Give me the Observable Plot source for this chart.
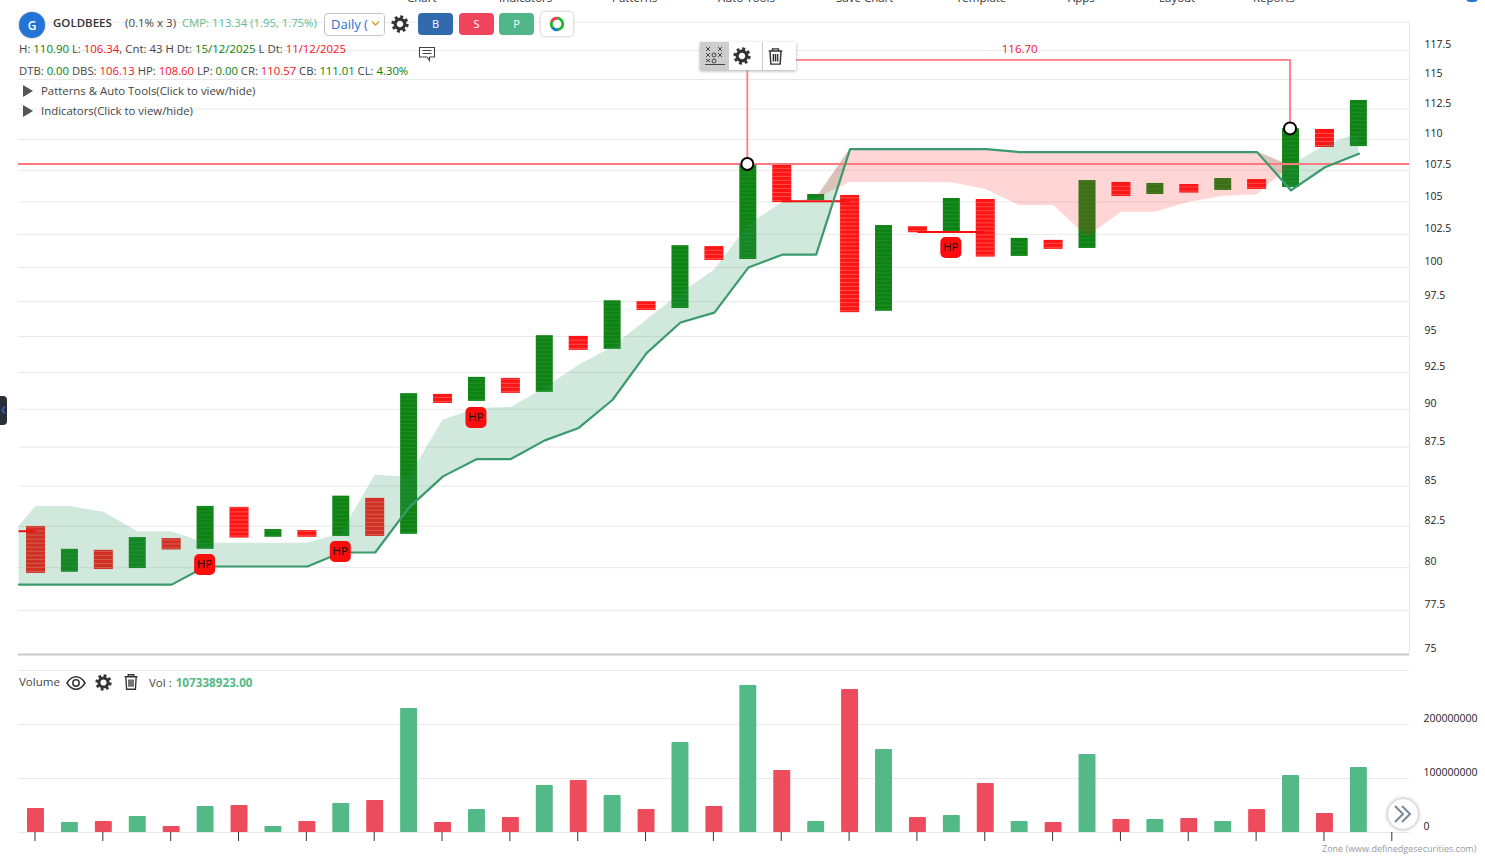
<!DOCTYPE html>
<html>
<head>
<meta charset="utf-8">
<script src="https://cdn.jsdelivr.net/npm/d3@7"></script>
<script src="https://cdn.jsdelivr.net/npm/@observablehq/plot@0.6"></script>
<style>
html,body{margin:0;padding:0;background:#fff;overflow:hidden}
#page{position:relative;width:1485px;height:863px;overflow:hidden;font-family:"Open Sans","Noto Sans",sans-serif;color:#444}
#page>svg{position:absolute;left:0}
.t{position:absolute;white-space:nowrap;font-size:11.5px;line-height:14px}
.g{color:#0a800a}.r{color:#f5101f}
.btn{position:absolute;top:13px;width:35px;height:22px;border-radius:4px;color:#fff;font-size:11px;line-height:22px;text-align:center}
.ic{position:absolute;display:block}
.nav{position:absolute;top:-9px;font-size:11.5px;line-height:14px;color:#333;white-space:nowrap}
</style>
</head>
<body>
<div id="page"></div>
<script>
// Column extents (point & figure), alternating O (red) and X (green) columns
const columnHigh = [82.49,81.10,81.04,81.81,81.75,83.73,83.67,82.30,82.24,84.37,84.23,91.05,91.00,92.16,92.09,95.06,95.01,97.56,97.49,101.64,101.57,107.96,107.96,105.58,105.50,103.17,103.09,105.27,105.19,102.19,102.04,106.68,106.53,106.45,106.37,106.84,106.76,110.87,110.81,113.22];
const columnLow  = [79.66,79.73,79.89,79.95,81.06,81.10,81.78,81.83,81.83,81.88,81.88,82.01,90.39,90.53,91.07,91.14,94.03,94.10,96.86,97.00,100.53,100.60,104.95,105.11,96.70,96.80,102.62,102.64,100.78,100.83,101.36,101.43,105.42,105.58,105.69,105.90,105.98,106.13,109.33,109.41];
// Cloud edges; first entry is the value at the left edge of the plot
const cloudX     = [-0.5,0,1,2,3,4,5,6,7,8,9,10,11,12,13,14,15,16,17,18,19,20,21,22,23,24,25,26,27,28,29,30,31,32,33,34,35,36,37,38,39];
const trendLine  = [79.0,79.0,79.0,79.0,79.0,79.0,80.07,80.07,80.07,80.07,80.91,80.91,83.67,85.62,86.73,86.73,87.94,88.76,90.64,93.84,96.0,96.7,100.0,100.96,100.96,109.2,109.2,109.2,109.2,109.2,108.96,108.96,108.96,108.96,108.96,108.96,108.96,108.96,105.9,107.74,108.83];
const cloudEdge  = [82.49,83.73,83.73,83.36,82.17,82.17,81.46,81.46,81.46,81.46,82.05,85.69,85.56,89.26,90.05,90.12,91.41,92.98,94.24,96.15,98.09,99.79,103.17,104.95,105.27,106.53,106.53,106.53,106.51,105.98,104.72,104.72,102.29,104.2,104.2,104.98,105.45,105.56,107.87,109.5,110.48];
// Volume per column
const volumes = [44.4,18.5,20.4,29.6,11.1,48.1,50,11.1,20.4,53.7,59.3,229.6,18.5,42.6,27.8,87,96.3,68.5,42.6,166.7,48.1,272.2,114.8,20.4,264.8,153.7,27.8,31.5,90.7,20.4,18.5,144.4,24.1,24.1,25.9,20.4,42.6,105.6,35.2,120.4].map(v => v * 1e6);
// Annotations
const hpColumns = [5,9,13,27];
const hpValues  = [80.19,80.97,89.45,101.5];
const redSegments = [[-0.5,0,82.2],[22,24,105.06],[26,28,102.67]];
const pointColumns = [21,37];
const pointValues  = [108.0,110.9];
const targetValue = 116.7;
const levelValue = 108.0;
// Axis ticks
const priceTicks = [75,77.5,80,82.5,85,87.5,90,92.5,95,97.5,100,102.5,105,107.5,110,112.5,115,117.5];
const priceGrid = [...priceTicks.slice(1),120];
const volumeTicks = [0,1e8,2e8];
const timeTicks = [0,2,4,6,8,10,12,14,16,18,20,22,24,26,28,30,32,34,36,38,40];
const GREEN="#3a9a6e", AXIS_FONT='"Open Sans","Noto Sans",sans-serif';

const xScale = {domain:[0,40],range:[35.5,1392.3],axis:null};
const cols = columnHigh.map((h,i)=>({i,h,l:columnLow[i],x:i%2===0?"O":"X"}));
const boxes = cols.flatMap(c=>{const o=[];for(let v=c.l*1.0015;v<c.h;v*=1.003)o.push({i:c.i,v,x:c.x});return o;});
const cloud = cloudX.map((x,k)=>({x,l:trendLine[k],u:cloudEdge[k],top:Math.max(trendLine[k],cloudEdge[k])}));
const hw = c => c.x==="X"?0.25:0.28;

const roundSquare = {draw(ctx,size){const s=Math.sqrt(size/Math.PI),r=5;
  ctx.moveTo(-s+r,-s);ctx.lineTo(s-r,-s);ctx.arcTo(s,-s,s,-s+r,r);ctx.lineTo(s,s-r);ctx.arcTo(s,s,s-r,s,r);ctx.lineTo(-s+r,s);ctx.arcTo(-s,s,-s,s-r,r);ctx.lineTo(-s,-s+r);ctx.arcTo(-s,-s,-s+r,-s,r);ctx.closePath();}};

const price = Plot.plot({
  width:1485,height:660,marginLeft:18,marginRight:76,marginTop:22,marginBottom:6,
  style:{fontFamily:AXIS_FONT,background:"transparent",overflow:"visible"},
  x:xScale,
  y:{type:"log",domain:[75,120],range:[654,21.8],axis:null},
  marks:[
    Plot.gridY(priceGrid,{stroke:"#e9e9e9",strokeOpacity:1,strokeWidth:1}),
    Plot.frame({anchor:"right",stroke:"#e9e9e9"}),
    Plot.ruleY([75],{stroke:"#c9c9c9",strokeWidth:2}),
    Plot.axisY(priceTicks,{anchor:"right",tickSize:0,tickPadding:15,dy:-5.7,fontSize:10.5,tickFormat:d=>String(d),fill:"#222",label:null}),
    Plot.rect(cols,{x1:c=>c.i-hw(c),x2:c=>c.i+hw(c),y1:"l",y2:"h",fill:c=>c.x==="X"?"#0f8216":"#ff1414"}),
    Plot.ruleY(boxes,{y:"v",x1:b=>b.i-hw(b),x2:b=>b.i+hw(b),stroke:b=>b.x==="X"?"#35a035":"#ff8a8a",strokeOpacity:b=>b.x==="X"?.45:.5,strokeWidth:1}),
    Plot.area(cloud,{x1:"x",y1:"l",y2:"top",fill:"#2f9560",fillOpacity:.22}),
    Plot.area(cloud,{x1:"x",y1:"u",y2:"top",fill:"#ff2020",fillOpacity:.19}),
    Plot.ruleY([levelValue],{stroke:"#ff7a80",strokeWidth:1.8}),
    Plot.ruleY(redSegments,{x1:d=>d[0],x2:d=>d[1],y:d=>d[2],stroke:"#f40f0f",strokeWidth:2}),
    Plot.line(cloud,{x:"x",y:"l",stroke:GREEN,strokeWidth:2.2}),
    Plot.line([[pointColumns[0],pointValues[0]],[pointColumns[0],targetValue],[pointColumns[1],targetValue],[pointColumns[1],pointValues[1]]],{x:d=>d[0],y:d=>d[1],dx:-1,stroke:"#ff7a80",strokeWidth:1.8}),
    Plot.dot(pointColumns,{x:d=>d,y:(d,k)=>pointValues[k],dx:-1,r:6,fill:"#fff",stroke:"#000",strokeWidth:2}),
    Plot.dot(hpColumns,{x:d=>d,y:(d,k)=>hpValues[k],dx:-1,r:10.5,symbol:roundSquare,fill:"#fb0d0d"}),
    Plot.text(hpColumns,{x:d=>d,y:(d,k)=>hpValues[k],dx:-1,text:()=>"HP",fill:"#111",fontSize:11.5}),
    Plot.text([targetValue],{x:()=>29,y:d=>d,text:d=>d.toFixed(2),dy:-10,fill:"#f01030",fontSize:11.5})
  ]
});
price.style.top="0px";

const volume = Plot.plot({
  width:1485,height:203,marginLeft:18,marginRight:76,marginTop:10,marginBottom:31,
  style:{fontFamily:AXIS_FONT,background:"transparent",overflow:"visible"},
  x:xScale,
  y:{domain:[0,3e8],range:[172,10],axis:null},
  marks:[
    Plot.gridY([0,1e8,2e8,3e8],{stroke:"#e9e9e9",strokeOpacity:1,strokeWidth:1}),
    Plot.axisY(volumeTicks,{anchor:"right",tickSize:0,tickPadding:14,dy:-6,fontSize:10.5,tickFormat:d=>String(d),fill:"#222",label:null}),
    Plot.rect(volumes,{x1:(d,i)=>i-0.25,x2:(d,i)=>i+0.25,y1:()=>0,y2:d=>d,rx:1,fill:(d,i)=>i%2===0?"#ed4c5c":"#53b987"}),
    Plot.axisX(timeTicks,{anchor:"bottom",tickSize:9,tickFormat:()=>"",dx:-1,stroke:"#333",label:null})
  ]
});
volume.style.top="660px";

const gear=(x,y,s,c="#333")=>`<svg class="ic" style="left:${x-s/2}px;top:${y-s/2}px" width="${s}" height="${s}" viewBox="-10 -10 20 20"><circle r="8" fill="none" stroke="${c}" stroke-width="3.2" stroke-dasharray="3.2 3.08"/><circle r="5.4" fill="none" stroke="${c}" stroke-width="3.6"/></svg>`;
const trash=(x,y,s,c="#333")=>`<svg class="ic" style="left:${x-s/2}px;top:${y-s/2}px" width="${s}" height="${s}" viewBox="-10 -10 20 20" fill="none" stroke="${c}" stroke-width="1.7"><path d="M-8 -6.5H8M-3.5 -6.5V-9H3.5V-6.5M-6.5 -6.5L-5.5 9H5.5L6.5 -6.5M-2.5 -3V6M0 -3V6M2.5 -3V6"/></svg>`;
const xo=`<svg class="ic" style="left:704px;top:46px" width="22" height="20" viewBox="0 0 22 20" fill="none" stroke="#444" stroke-width="1"><path d="M2 1l4 4M6 1l-4 4M14 1l4 4M18 1l-4 4M2 7l4 4M6 7l-4 4M14 7l4 4M18 7l-4 4M2 13l4 3M6 13l-4 3"/><circle cx="10" cy="9" r="2"/><circle cx="10" cy="15" r="2"/><path d="M1 18.5H21"/></svg>`;

const page=document.getElementById("page");
page.innerHTML = `
  ${[["Chart",407],["Indicators",499],["Patterns",612],["Auto Tools",718],["Save Chart",836],["Template",956],["Apps",1068],["Layout",1159],["Reports",1253]].map(d=>`<div class="nav" style="left:${d[1]}px">${d[0]}</div>`).join("")}
  <div style="position:absolute;left:1466px;top:-6px;width:12px;height:8px;border-radius:6px;background:#2474d8"></div>
`;
page.append(price,volume);
page.insertAdjacentHTML("beforeend",`
  <div style="position:absolute;left:19px;top:12px;width:26px;height:26px;border-radius:13px;background:#2474d8;color:#fff;font-weight:600;font-size:12px;line-height:27px;text-align:center;box-shadow:0 0 2px #999">G</div>
  <div class="t" style="left:53px;top:16px;font-weight:600;color:#333">GOLDBEES</div>
  <div class="t" style="left:125px;top:16px">(0.1% x 3)</div>
  <div class="t" style="left:182px;top:16px;font-size:11.3px;color:#5cbd94">CMP: 113.34 (1.95, 1.75%)</div>
  <div style="position:absolute;left:324px;top:13px;height:21px;border:1px solid #c4c4c4;border-radius:4px;background:#fff;overflow:hidden;color:#2a6fd0;font-size:13px;line-height:21px;padding-left:6px;width:53px;white-space:nowrap">Daily (<span style="position:absolute;right:0;top:0;width:14px;height:21px;background:#fff"></span></div>
  <svg class="ic" style="left:371px;top:20px" width="9" height="7" viewBox="0 0 9 7"><path d="M1 1.5L4.5 5L8 1.5" fill="none" stroke="#d99a2b" stroke-width="1.4"/></svg>
  ${gear(400,24,18)}
  <div class="btn" style="left:418px;background:#326aae">B</div>
  <div class="btn" style="left:459px;background:#f0445c">S</div>
  <div class="btn" style="left:499px;background:#52b788">P</div>
  <div style="position:absolute;left:541px;top:12px;width:32px;height:24px;border-radius:4px;background:#fff;box-shadow:0 0 3px #aaa"></div>
  <svg class="ic" style="left:549px;top:16px" width="16" height="16" viewBox="-8 -8 16 16" fill="none" stroke-width="2.8"><circle r="5.8" stroke="#19b82a"/><path d="M-5.4 -2A5.8 5.8 0 0 1 1 -5.7" stroke="#f0454f"/><path d="M-4.5 3.6A5.8 5.8 0 0 0 1 5.7" stroke="#1c79e0"/></svg>
  <svg class="ic" style="left:418px;top:46px" width="18" height="16" viewBox="0 0 18 16" fill="none" stroke="#444" stroke-width="1.1"><path d="M1.5 1.5H16.5V11H11.5V14.5L9 11H1.5Z"/><path d="M4.5 4.5H13.5M4.5 7.5H13.5"/></svg>
  <div class="t" style="left:19px;top:42px;font-size:11.4px">H: <span class="g">110.90</span> L: <span class="r">106.34</span>, Cnt: 43 H Dt: <span class="g">15/12/2025</span> L Dt: <span class="r">11/12/2025</span></div>
  <div class="t" style="left:19px;top:64px;font-size:11.3px">DTB: <span class="g">0.00</span> DBS: <span class="r">106.13</span> HP: <span class="r">108.60</span> LP: <span class="g">0.00</span> CR: <span class="r">110.57</span> CB: <span class="g">111.01</span> CL: <span class="g">4.30%</span></div>
  <svg class="ic" style="left:23px;top:85px" width="11" height="12"><path d="M0 0L10 6L0 12Z" fill="#555"/></svg>
  <div class="t" style="left:41px;top:84px;font-size:11.4px">Patterns &amp; Auto Tools(Click to view/hide)</div>
  <svg class="ic" style="left:23px;top:105px" width="11" height="12"><path d="M0 0L10 6L0 12Z" fill="#555"/></svg>
  <div class="t" style="left:41px;top:104px;font-size:11.4px">Indicators(Click to view/hide)</div>
  <div style="position:absolute;left:0;top:396px;width:7px;height:29px;background:#2a2e38;border-radius:0 4px 4px 0"></div>
  <svg class="ic" style="left:1px;top:406px" width="5" height="8"><path d="M4 0.5L1 4L4 7.5" fill="none" stroke="#3b63d8" stroke-width="1.2"/></svg>
  <div style="position:absolute;left:700px;top:42px;width:96px;height:28px;background:#fff;box-shadow:0 1px 3px #aaa"></div>
  <div style="position:absolute;left:700px;top:42px;width:29px;height:28px;background:#cdcdcd"></div>
  <div style="position:absolute;left:762px;top:42px;width:1px;height:28px;background:#ccc"></div>
  ${xo}${gear(742,56,18)}${trash(775,56,17)}
  <div class="t" style="left:19px;top:675px">Volume</div>
  <svg class="ic" style="left:66px;top:675px" width="20" height="16" viewBox="0 0 20 16" fill="none" stroke="#333" stroke-width="1.5"><path d="M1 8C4 3 7 1.8 10 1.8S16 3 19 8C16 13 13 14.2 10 14.2S4 13 1 8Z"/><circle cx="10" cy="8" r="3.2"/></svg>
  ${gear(103,682,17)}${trash(131,682,16)}
  <div class="t" style="left:149px;top:675px">Vol : <span style="color:#53b987;font-weight:700;font-size:11.7px;margin-left:1px">107338923.00</span></div>
  <div style="position:absolute;left:1388px;top:799px;width:30px;height:30px;border-radius:15px;background:#fff;box-shadow:0 0 4px #999"></div>
  <svg class="ic" style="left:1393px;top:805px" width="20" height="18" viewBox="0 0 20 18" fill="none" stroke="#76869c" stroke-width="2"><path d="M2 1L10 9L2 17M9 1L17 9L9 17"/></svg>
  <div class="t" style="left:1322px;top:842px;font-size:9px;color:#9a9a9a">Zone (www.definedgesecurities.com)</div>
`);
</script>
</body>
</html>
